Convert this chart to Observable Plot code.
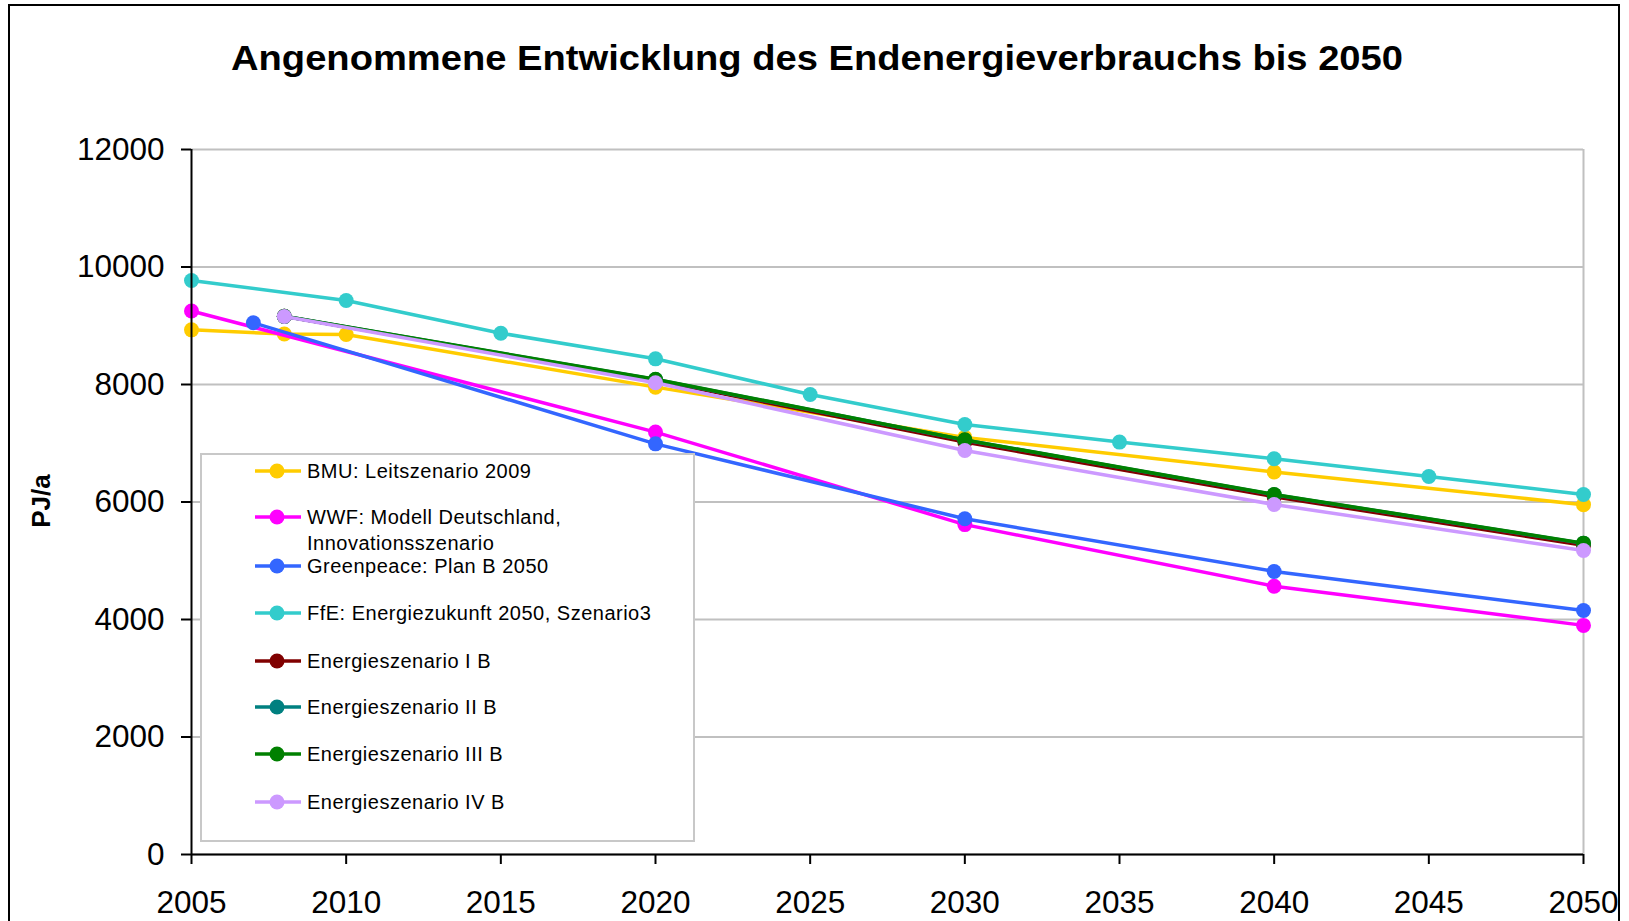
<!DOCTYPE html>
<html>
<head>
<meta charset="utf-8">
<script src="https://cdn.jsdelivr.net/npm/d3@7"></script>
<script src="https://cdn.jsdelivr.net/npm/@observablehq/plot@0.6"></script>
<style>
  html, body { margin: 0; padding: 0; background: #fff; overflow: hidden; }
  #wrap { position: relative; width: 1629px; height: 921px; overflow: hidden; font-family: 'Liberation Sans', Arial, sans-serif; }
  #frame { position: absolute; left: 8px; top: 4px; width: 1608px; height: 1000px; border: 2px solid #000; border-bottom: none; pointer-events: none; }
  #chart { position: absolute; left: 0; top: 0; }
  .ov { position: absolute; left: 0; top: 0; }
  #legend { position: absolute; left: 200px; top: 453px; width: 495px; height: 389px; border: 2px solid #c8c8c8; background: #fff; box-sizing: border-box; }
  .lg { position: absolute; left: 53px; height: 24px; display: flex; align-items: flex-start; font-size: 20px; color: #000; white-space: nowrap; letter-spacing: 0.5px; }
  .lg svg { margin-right: 6px; flex: none; }
  .lg .txt { line-height: 26px; margin-top: -1px; }
</style>
</head>
<body>
<div id="wrap">
  <div id="chart"></div>
  <svg class="ov" width="1629" height="921">
    <text id="title" x="817" y="70" text-anchor="middle" font-family="'Liberation Sans', Arial, sans-serif" font-weight="bold" font-size="35.5" textLength="1172" lengthAdjust="spacingAndGlyphs">Angenommene Entwicklung des Endenergieverbrauchs bis 2050</text>
    <text id="ylab" transform="translate(50,501) rotate(-90)" text-anchor="middle" font-family="'Liberation Sans', Arial, sans-serif" font-weight="bold" font-size="26">PJ/a</text>
  </svg>
  <div id="legend"></div>
  <div id="frame"></div>
</div>
<script>
// ---- data ----
const seriesNames = [
  "BMU: Leitszenario 2009",
  "WWF: Modell Deutschland, Innovationsszenario",
  "Greenpeace: Plan B 2050",
  "FfE: Energiezukunft 2050, Szenario3",
  "Energieszenario I B",
  "Energieszenario II B",
  "Energieszenario III B",
  "Energieszenario IV B"
];
const seriesColors = ["#FFCC00", "#FF00FF", "#3366FF", "#33CCCC", "#800000", "#008080", "#008000", "#CC99FF"];

const bmuYears = [2005, 2008, 2010, 2020, 2030, 2040, 2050];
const bmuValues = [8930, 8860, 8850, 7955, 7100, 6510, 5955];

const wwfYears = [2005, 2020, 2030, 2040, 2050];
const wwfValues = [9250, 7190, 5615, 4567, 3900];

const greenpeaceYears = [2007, 2020, 2030, 2040, 2050];
const greenpeaceValues = [9050, 6990, 5715, 4818, 4153];

const ffeYears = [2005, 2010, 2015, 2020, 2025, 2030, 2035, 2040, 2045, 2050];
const ffeValues = [9770, 9430, 8873, 8437, 7830, 7320, 7020, 6735, 6434, 6128];

const szenYears = [2008, 2020, 2030, 2040, 2050];
const szen1Values = [9160, 8070, 7020, 6090, 5262];
const szen2Values = [9160, 8085, 7055, 6125, 5296];
const szen3Values = [9160, 8090, 7058, 6128, 5300];
const szen4Values = [9157, 8029, 6877, 5957, 5174];

const xTicks = [2005, 2010, 2015, 2020, 2025, 2030, 2035, 2040, 2045, 2050];
const yTicks = [0, 2000, 4000, 6000, 8000, 10000, 12000];

// ---- build table ----
const seriesYears = [bmuYears, wwfYears, greenpeaceYears, ffeYears, szenYears, szenYears, szenYears, szenYears];
const seriesValues = [bmuValues, wwfValues, greenpeaceValues, ffeValues, szen1Values, szen2Values, szen3Values, szen4Values];
const rows = [];
seriesNames.forEach((name, i) => {
  seriesYears[i].forEach((yr, j) => rows.push({name, year: yr, value: seriesValues[i][j]}));
});

const seriesMarks = [];
seriesNames.forEach(name => {
  const d = rows.filter(r => r.name === name);
  seriesMarks.push(Plot.line(d, {x: "year", y: "value", stroke: "name", strokeWidth: 3.5}));
  seriesMarks.push(Plot.dot(d, {x: "year", y: "value", fill: "name", r: 7.5, stroke: "none"}));
});

const chart = Plot.plot({
  width: 1629,
  height: 921,
  marginLeft: 191,
  marginRight: 46,
  marginTop: 149,
  marginBottom: 67,
  style: {fontFamily: "'Liberation Sans', Arial, sans-serif", fontSize: "31.5px", background: "transparent", color: "#000", overflow: "visible"},
  x: {domain: [2005, 2050], label: null},
  y: {domain: [0, 12000], label: null},
  color: {domain: seriesNames, range: seriesColors},
  marks: [
    Plot.gridY(yTicks, {stroke: "#c0c0c0", strokeOpacity: 1, strokeWidth: 2}),
    Plot.ruleX([2050], {stroke: "#c0c0c0", strokeWidth: 2}),
    Plot.axisY(yTicks, {tickSize: 10, tickPadding: 17, strokeWidth: 2, tickFormat: d => String(d), label: null}),
    Plot.axisX(xTicks, {tickSize: 10, tickPadding: 26, strokeWidth: 2, tickFormat: d => String(d), label: null}),
    ...seriesMarks,
    Plot.ruleX([2005], {stroke: "#000", strokeWidth: 2}),
    Plot.ruleY([0], {stroke: "#000", strokeWidth: 2})
  ]
});
document.getElementById("chart").appendChild(chart);

// ---- legend ----
const legendTops = [469, 515, 564, 611, 659, 705, 752, 800];
const legend = document.getElementById("legend");
seriesNames.forEach((name, i) => {
  const item = document.createElement("div");
  item.className = "lg";
  item.style.top = (legendTops[i] - 453 - 12) + "px";
  const c = seriesColors[i];
  const label = name.startsWith("WWF") ? "WWF: Modell Deutschland,<br>Innovationsszenario" : name;
  item.innerHTML = `<svg width="46" height="24"><line x1="0" y1="12" x2="46" y2="12" stroke="${c}" stroke-width="3.5"/><circle cx="22" cy="12" r="7.5" fill="${c}"/></svg><span class="txt">${label}</span>`;
  legend.appendChild(item);
});
</script>
</body>
</html>
